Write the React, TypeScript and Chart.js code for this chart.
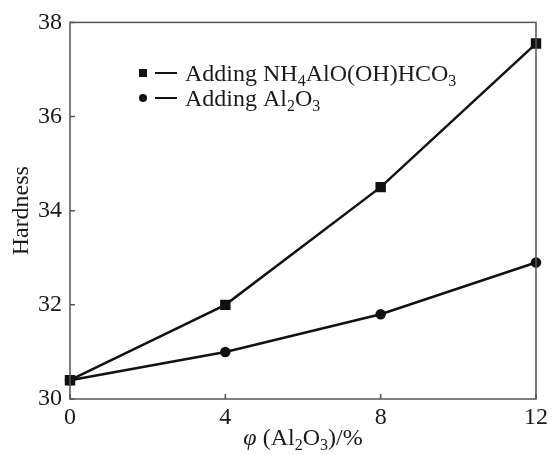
import React, { useEffect, useRef } from "react";
import { Chart, registerables } from "chart.js";

Chart.register(...registerables);

const xValues = [0, 4, 8, 12];
const nh4Values = [30.4, 32.0, 34.5, 37.55];
const al2o3Values = [30.4, 31.0, 31.8, 32.9];
const xTicks = [0, 4, 8, 12];
const yTicks = [30, 32, 34, 36, 38];
const yTitle = "Hardness";

type Part = { t: string; sub?: boolean; italic?: boolean };
const legendRows: { style: "rect" | "circle"; parts: Part[] }[] = [
  {
    style: "rect",
    parts: [
      { t: "Adding NH" },
      { t: "4", sub: true },
      { t: "AlO(OH)HCO" },
      { t: "3", sub: true },
    ],
  },
  {
    style: "circle",
    parts: [{ t: "Adding Al" }, { t: "2", sub: true }, { t: "O" }, { t: "3", sub: true }],
  },
];
const xTitleParts: Part[] = [
  { t: "φ", italic: true },
  { t: " (Al" },
  { t: "2", sub: true },
  { t: "O" },
  { t: "3", sub: true },
  { t: ")/%" },
];

const FONT = "'Liberation Serif', 'Times New Roman', serif";
const FS = 24;
const SUB = 16;

function fontFor(p: Part) {
  return `${p.italic ? "italic " : ""}${p.sub ? SUB : FS}px ${FONT}`;
}
function measure(ctx: CanvasRenderingContext2D, parts: Part[]) {
  let w = 0;
  for (const p of parts) {
    ctx.font = fontFor(p);
    w += ctx.measureText(p.t).width;
  }
  return w;
}
function drawRich(ctx: CanvasRenderingContext2D, parts: Part[], x: number, baseline: number) {
  let cx = x;
  ctx.textAlign = "left";
  ctx.textBaseline = "alphabetic";
  for (const p of parts) {
    ctx.font = fontFor(p);
    ctx.fillText(p.t, cx, baseline + (p.sub ? 5 : 0));
    cx += ctx.measureText(p.t).width;
  }
}

const framePlugin = {
  id: "frame",
  afterDraw(chart: any) {
    const ctx: CanvasRenderingContext2D = chart.ctx;
    const { left, right, top, bottom } = chart.chartArea;
    const xs = chart.scales.x;
    const ys = chart.scales.y;
    ctx.save();
    ctx.strokeStyle = "#555";
    ctx.lineWidth = 1.5;
    ctx.strokeRect(left, top, right - left, bottom - top);
    ctx.beginPath();
    for (const v of yTicks) {
      const y = ys.getPixelForValue(v);
      ctx.moveTo(left, y);
      ctx.lineTo(left + 5, y);
    }
    for (const v of xTicks) {
      const x = xs.getPixelForValue(v);
      ctx.moveTo(x, bottom);
      ctx.lineTo(x, bottom - 5);
    }
    ctx.stroke();

    ctx.fillStyle = "#1a1a1a";
    // y title
    ctx.save();
    ctx.translate(22, (top + bottom) / 2);
    ctx.rotate(-Math.PI / 2);
    ctx.font = `${FS}px ${FONT}`;
    ctx.textAlign = "center";
    ctx.textBaseline = "middle";
    ctx.fillText(yTitle, 0, 0);
    ctx.restore();

    // x title
    const w = measure(ctx, xTitleParts);
    drawRich(ctx, xTitleParts, (left + right) / 2 - w / 2, 445);

    // legend
    const rowsY = [73, 98];
    legendRows.forEach((row, i) => {
      const y = rowsY[i];
      ctx.fillStyle = "#111";
      if (row.style === "rect") {
        ctx.fillRect(139, y - 4, 8, 8);
      } else {
        ctx.beginPath();
        ctx.arc(143, y, 4, 0, Math.PI * 2);
        ctx.fill();
      }
      ctx.strokeStyle = "#111";
      ctx.lineWidth = 2;
      ctx.beginPath();
      ctx.moveTo(155, y);
      ctx.lineTo(177, y);
      ctx.stroke();
      ctx.fillStyle = "#1a1a1a";
      drawRich(ctx, row.parts, 185, y + 8);
    });
    ctx.restore();
  },
};

export default function App() {
  const ref = useRef<HTMLCanvasElement | null>(null);
  useEffect(() => {
    document.body.style.margin = "0";
    const canvas = ref.current!;
    const chart = new Chart(canvas, {
      type: "line",
      data: {
        datasets: [
          {
            label: "NH4AlO(OH)HCO3",
            data: xValues.map((x, i) => ({ x, y: nh4Values[i] })),
            borderColor: "#111",
            backgroundColor: "#111",
            borderWidth: 2.5,
            pointStyle: "rect",
            pointRadius: 5.6,
            clip: false,
          },
          {
            label: "Al2O3",
            data: xValues.map((x, i) => ({ x, y: al2o3Values[i] })),
            borderColor: "#111",
            backgroundColor: "#111",
            borderWidth: 2.5,
            pointStyle: "circle",
            pointRadius: 4,
            clip: false,
          },
        ],
      },
      options: {
        animation: false,
        responsive: true,
        maintainAspectRatio: false,
        layout: { padding: { top: 21, right: 12, left: 0, bottom: 0 } },
        plugins: { legend: { display: false }, tooltip: { enabled: false } },
        scales: {
          x: {
            type: "linear",
            min: 0,
            max: 12,
            afterBuildTicks: (s: any) => {
              s.ticks = xTicks.map((v) => ({ value: v }));
            },
            afterFit: (s: any) => {
              s.height = 56;
            },
            grid: { display: false, drawTicks: false },
            border: { display: false },
            ticks: {
              padding: 4,
              color: "#1a1a1a",
              font: { family: FONT, size: FS },
              maxRotation: 0,
            },
          },
          y: {
            type: "linear",
            min: 30,
            max: 38,
            afterBuildTicks: (s: any) => {
              s.ticks = yTicks.map((v) => ({ value: v }));
            },
            afterFit: (s: any) => {
              s.width = 70;
            },
            grid: { display: false, drawTicks: false },
            border: { display: false },
            ticks: {
              padding: 8,
              color: "#1a1a1a",
              font: { family: FONT, size: FS },
            },
          },
        },
      },
      plugins: [framePlugin],
    });
    return () => chart.destroy();
  }, []);
  return (
    <div style={{ width: 552, height: 455, position: "relative" }}>
      <canvas ref={ref} />
    </div>
  );
}
